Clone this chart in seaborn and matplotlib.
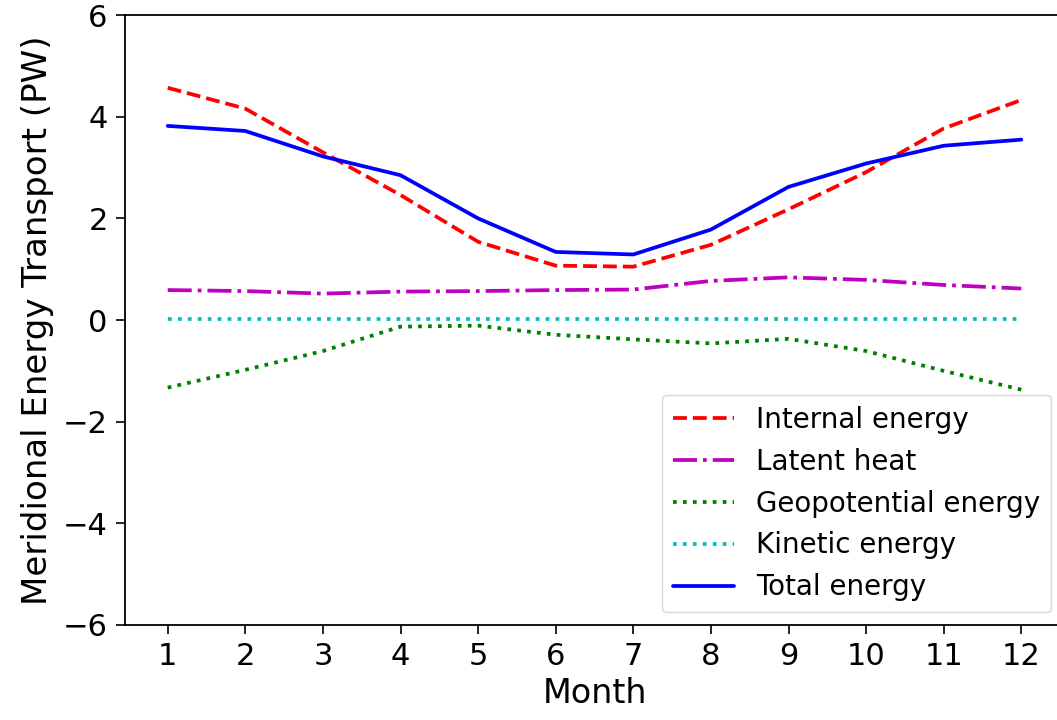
import numpy as np
import pandas as pd
import matplotlib
matplotlib.use("Agg")
import matplotlib.pyplot as plt
import seaborn as sns

months = list(range(1, 13))
internal = [4.57, 4.16, 3.30, 2.46, 1.54, 1.07, 1.05, 1.48, 2.18, 2.91, 3.77, 4.33]
latent = [0.59, 0.57, 0.52, 0.56, 0.57, 0.59, 0.60, 0.77, 0.84, 0.79, 0.69, 0.62]
geopotential = [-1.33, -0.98, -0.61, -0.13, -0.11, -0.29, -0.38, -0.46, -0.37, -0.61, -1.00, -1.37]
kinetic = [0.02] * 12
total = [3.82, 3.72, 3.22, 2.85, 2.00, 1.34, 1.29, 1.78, 2.62, 3.08, 3.43, 3.55]

series_names = ["Internal energy", "Latent heat", "Geopotential energy",
                "Kinetic energy", "Total energy"]
series_vals = [internal, latent, geopotential, kinetic, total]
colors = ["#ff0000", "#bf00bf", "#008000", "#00bfbf", "#0000ff"]
styles = ["--", "-.", ":", ":", "-"]

sns.set_style("ticks", {"text.color": "black", "axes.labelcolor": "black",
                        "xtick.color": "black", "ytick.color": "black",
                        "axes.edgecolor": "black"})
plt.rcParams["font.family"] = ["DejaVu Sans"]

fig = plt.figure(figsize=(10.57, 7.2), dpi=100)
ax = fig.add_axes([0.1183, 0.132, 0.8883, 0.847])

for name, vals, c, ls in zip(series_names, series_vals, colors, styles):
    df = pd.DataFrame({"Month": months, "Value": vals})
    sns.lineplot(data=df, x="Month", y="Value", ax=ax, color=c,
                 linestyle=ls, linewidth=2.7, label=name)

ax.set_ylim(-6, 6)
ax.set_yticks([-6, -4, -2, 0, 2, 4, 6])
ax.set_xticks(months)
ax.set_xlim(1 - 0.55, 12 + 0.55)
ax.tick_params(labelsize=22, length=6.5, width=1.2, pad=6)
for sp in ax.spines.values():
    sp.set_linewidth(1.3)
ax.set_xlabel("Month", fontsize=24, labelpad=4)
ax.set_ylabel("Meridional Energy Transport (PW)", fontsize=24.5, labelpad=6)

leg = ax.legend(loc="lower right", fontsize=20, handlelength=2.2,
                frameon=True, fancybox=True, borderaxespad=0.45)
leg.get_frame().set_edgecolor("#cccccc")

fig.savefig("out.png", dpi=100)
